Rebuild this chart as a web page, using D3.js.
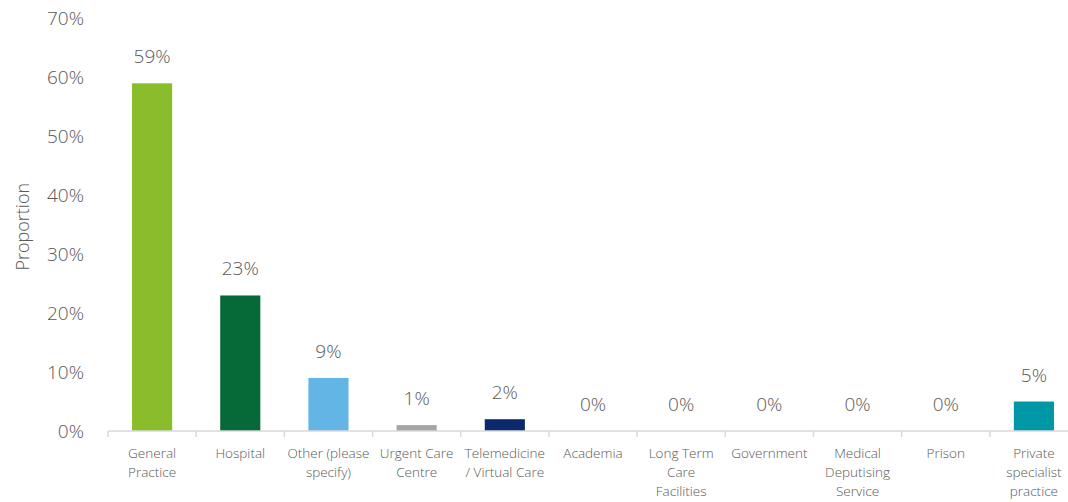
<!DOCTYPE html>
<html>
<head>
<meta charset="utf-8">
<script src="https://cdn.jsdelivr.net/npm/d3@7"></script>
<style>
  html, body { margin: 0; padding: 0; background: #fff; }
  svg { display: block; font-family: "Open Sans", "Noto Sans", sans-serif; font-weight: 300; }
</style>
</head>
<body>
<svg id="chart" width="1068" height="502"></svg>
<script>
// Workplace categories (line breaks mark where the axis labels wrap)
const categories = [
  "General\nPractice",
  "Hospital",
  "Other (please\nspecify)",
  "Urgent Care\nCentre",
  "Telemedicine\n/ Virtual Care",
  "Academia",
  "Long Term\nCare\nFacilities",
  "Government",
  "Medical\nDeputising\nService",
  "Prison",
  "Private\nspecialist\npractice"
];
// Proportion of respondents, in percent
const values = [59, 23, 9, 1, 2, 0, 0, 0, 0, 0, 5];
const barColors = [
  "#8abd2b", "#066a38", "#63b5e5", "#a5a5a5", "#0b2a6b",
  "#8abd2b", "#8abd2b", "#8abd2b", "#8abd2b", "#8abd2b", "#0097a7"
];
const yTicks = [0, 10, 20, 30, 40, 50, 60, 70];
const yTitle = "Proportion";

const svg = d3.select("#chart");
const margin = { left: 108, right: 1078, top: 18.5, bottom: 431 };
const textColor = "#595959";

const x = d3.scaleBand()
  .domain(categories)
  .range([margin.left, margin.right])
  .paddingInner(0)
  .paddingOuter(0);

const y = d3.scaleLinear()
  .domain([0, 70])
  .range([margin.bottom, margin.top]);

// Y tick labels (no axis line or gridlines)
svg.append("g")
  .selectAll("text")
  .data(yTicks)
  .join("text")
  .attr("x", 84)
  .attr("y", d => y(d))
  .attr("dy", "0.36em")
  .attr("text-anchor", "end")
  .attr("fill", textColor)
  .attr("font-size", 19)
  .text(d => d + "%");

// Y axis title
svg.append("text")
  .attr("transform", `translate(29,${(y(70) + y(0)) / 2 + 2}) rotate(-90)`)
  .attr("text-anchor", "middle")
  .attr("fill", textColor)
  .attr("font-size", 18)
  .text(yTitle);

// Bars
const barW = x.bandwidth() * 0.455;
svg.append("g")
  .selectAll("rect")
  .data(values)
  .join("rect")
  .attr("x", (d, i) => x(categories[i]) + (x.bandwidth() - barW) / 2)
  .attr("y", d => y(d))
  .attr("width", barW)
  .attr("height", d => y(0) - y(d))
  .attr("fill", (d, i) => barColors[i]);

// Category axis line with tick marks at band boundaries
const axisG = svg.append("g");
axisG.append("line")
  .attr("x1", margin.left).attr("x2", margin.right)
  .attr("y1", y(0)).attr("y2", y(0))
  .attr("stroke", "#d9d9d9").attr("stroke-width", 1.5);
const boundaries = categories.map(c => x(c)).concat([margin.right]);
axisG.selectAll("line.tick")
  .data(boundaries)
  .join("line")
  .attr("class", "tick")
  .attr("x1", d => d).attr("x2", d => d)
  .attr("y1", y(0)).attr("y2", y(0) + 6)
  .attr("stroke", "#d9d9d9").attr("stroke-width", 1.5);

// Wrapped category labels
const catG = svg.append("g")
  .selectAll("text")
  .data(categories)
  .join("text")
  .attr("text-anchor", "middle")
  .attr("fill", textColor)
  .attr("font-size", 13.5);
catG.each(function(d) {
  const t = d3.select(this);
  const cx = x(d) + x.bandwidth() / 2;
  d.split("\n").forEach((line, k) => {
    t.append("tspan")
      .attr("x", cx)
      .attr("y", y(0) + 27 + k * 19)
      .text(line);
  });
});

// Value labels above bars
svg.append("g")
  .selectAll("text")
  .data(values)
  .join("text")
  .attr("x", (d, i) => x(categories[i]) + x.bandwidth() / 2)
  .attr("y", d => y(d) - 20)
  .attr("text-anchor", "middle")
  .attr("fill", textColor)
  .attr("font-size", 19)
  .text(d => d + "%");
</script>
</body>
</html>
